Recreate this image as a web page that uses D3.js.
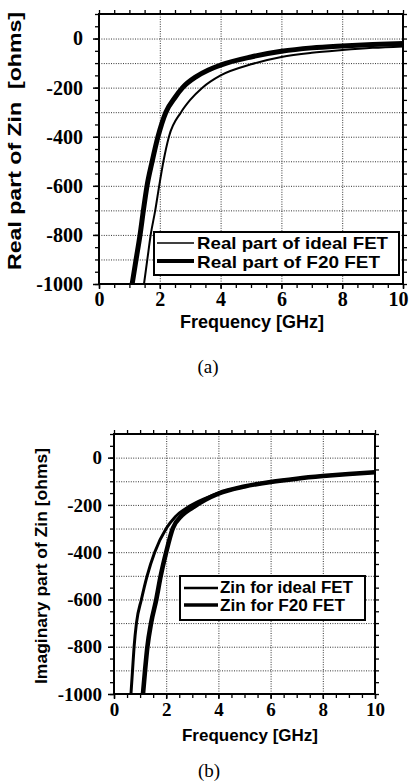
<!DOCTYPE html>
<html>
<head>
<meta charset="utf-8">
<script src="https://cdn.jsdelivr.net/npm/d3@7"></script>
<style>
body { margin: 0; background: #fff; }
svg { display: block; }
</style>
</head>
<body>
<script>
// axis ticks
var freqTicks = [0, 2, 4, 6, 8, 10];
var ohmTicks = [0, -200, -400, -600, -800, -1000];
var ohmGrid = [0, -100, -200, -300, -400, -500, -600, -700, -800, -900, -1000];

// (a) real part of Zin
var realFreqIdeal = [1.48, 1.59, 1.70, 1.85, 1.98, 2.12, 2.3, 2.7, 3.0, 3.4, 4.0, 5.0, 6.0, 7.0, 8.0, 9.0, 10.0];
var realOhmsIdeal = [-1000, -900, -800, -700, -600, -500, -400, -300, -250, -200, -150, -105, -75, -58, -47, -38, -32];
var realFreqF20 = [1.09, 1.22, 1.35, 1.46, 1.58, 1.75, 1.94, 2.2, 2.5, 2.75, 3.2, 3.6, 4.0, 5.0, 6.0, 7.0, 8.0, 9.0, 10.0];
var realOhmsF20 = [-1000, -900, -800, -700, -600, -500, -400, -300, -240, -200, -155, -128, -108, -75, -52, -38, -30, -24, -20];

// (b) imaginary part of Zin
var imagFreqIdeal = [0.65, 0.71, 0.77, 0.86, 1.05, 1.27, 1.56, 2.0, 2.35, 2.9, 3.5, 4.0, 5.0, 6.0, 7.0, 8.0, 9.0, 10.0];
var imagOhmsIdeal = [-1000, -900, -800, -700, -600, -500, -400, -300, -250, -205, -172, -150, -122, -103, -89, -78, -69, -62];
var imagFreqF20 = [1.11, 1.19, 1.28, 1.42, 1.62, 1.79, 2.0, 2.25, 2.6, 3.0, 3.5, 4.0, 5.0, 6.0, 7.0, 8.0, 9.0, 10.0];
var imagOhmsF20 = [-1000, -900, -800, -700, -600, -500, -400, -300, -245, -212, -178, -152, -122, -103, -89, -78, -69, -62];

var sans = "'Liberation Sans', Arial, Helvetica, sans-serif";
var serif = "'Liberation Serif', 'Times New Roman', serif";

var svg = d3.select("body").append("svg")
    .attr("width", 409)
    .attr("height", 783);

function zip(fs, vs) {
    return fs.map(function(f, i) { return { f: f, v: vs[i] }; });
}

function panel(c) {
    var x = d3.scaleLinear().domain([0, 10]).range([c.left, c.right]);
    var y = d3.scaleLinear().domain([-1000, 100]).range([c.bottom, c.top]);
    var g = svg.append("g");
    var h = c.bottom - c.top, w = c.right - c.left;

    // dotted grid
    g.append("g").attr("transform", "translate(0," + c.bottom + ")")
        .call(d3.axisBottom(x).tickValues(freqTicks).tickSize(-h).tickFormat(""))
        .call(function(s) { s.select(".domain").remove(); });
    g.append("g").attr("transform", "translate(" + c.left + ",0)")
        .call(d3.axisLeft(y).tickValues(ohmGrid).tickSize(-w).tickFormat(""))
        .call(function(s) { s.select(".domain").remove(); });
    g.selectAll(".tick line")
        .attr("stroke", "#333")
        .attr("stroke-width", 1)
        .attr("stroke-dasharray", "1,1.4");

    // minor ticks on all four sides
    var fMinor = d3.range(0, 10.01, 0.5), oMinor = d3.range(-1000, 100.1, 50);
    var minor = [
        [d3.axisBottom(x).tickValues(fMinor), "translate(0," + c.bottom + ")"],
        [d3.axisTop(x).tickValues(fMinor), "translate(0," + c.top + ")"],
        [d3.axisLeft(y).tickValues(oMinor), "translate(" + c.left + ",0)"],
        [d3.axisRight(y).tickValues(oMinor), "translate(" + c.right + ",0)"]
    ];
    minor.forEach(function(m) {
        g.append("g").attr("transform", m[1])
            .call(m[0].tickSize(4).tickSizeOuter(0).tickFormat(""))
            .call(function(s) { s.select(".domain").remove(); })
            .selectAll("line").attr("stroke", "#000").attr("stroke-width", 1.3);
    });

    // labelled axes
    var xa = g.append("g").attr("transform", "translate(0," + c.bottom + ")")
        .call(d3.axisBottom(x).tickValues(freqTicks).tickSize(5).tickPadding(c.xpad)
            .tickFormat(function(d) { return String(d); }));
    var ya = g.append("g").attr("transform", "translate(" + c.left + ",0)")
        .call(d3.axisLeft(y).tickValues(ohmTicks).tickSize(6).tickPadding(c.ypad)
            .tickFormat(function(d) { return String(d); }));
    [xa, ya].forEach(function(a) {
        a.attr("font-family", null).attr("font-size", null);
        a.select(".domain").remove();
        a.selectAll("line").attr("stroke", "#000").attr("stroke-width", 1.5);
        a.selectAll("text")
            .attr("fill", "#000")
            .style("font-family", serif)
            .style("font-weight", "bold")
            .style("font-size", c.tickFont + "px");
    });
    // keep the last frequency label inside the page
    xa.selectAll("text").filter(function(d) { return d === 10; })
        .attr("dx", c.lastDx);

    // frame
    g.append("rect")
        .attr("x", c.left).attr("y", c.top)
        .attr("width", w).attr("height", h)
        .attr("fill", "none").attr("stroke", "#000").attr("stroke-width", 2);

    // curves
    var clipId = "clip" + c.id;
    svg.append("clipPath").attr("id", clipId).append("rect")
        .attr("x", c.left).attr("y", c.top).attr("width", w).attr("height", h + 2);
    var line = d3.line()
        .x(function(d) { return x(d.f); })
        .y(function(d) { return y(d.v); })
        .curve(d3.curveMonotoneX);
    var series = [
        { data: zip(c.idealF, c.idealV), width: c.thin },
        { data: zip(c.f20F, c.f20V), width: c.thick }
    ];
    g.append("g").attr("clip-path", "url(#" + clipId + ")")
        .selectAll("path.curve")
        .data(series)
        .enter().append("path")
        .attr("class", "curve")
        .attr("d", function(d) { return line(d.data); })
        .attr("fill", "none")
        .attr("stroke", "#000")
        .attr("stroke-width", function(d) { return d.width; })
        .attr("stroke-linejoin", "round");

    // legend
    var L = c.legend;
    g.append("rect")
        .attr("x", L.x).attr("y", L.y).attr("width", L.w).attr("height", L.h)
        .attr("fill", "#fff").attr("stroke", "#000").attr("stroke-width", 2);
    L.labels.forEach(function(t, i) {
        g.append("line")
            .attr("x1", L.lx1).attr("x2", L.lx2)
            .attr("y1", L.ly[i]).attr("y2", L.ly[i])
            .attr("stroke", "#000")
            .attr("stroke-width", L.lw[i]);
        g.append("text")
            .attr("x", L.tx).attr("y", L.ty[i])
            .attr("textLength", L.len[i])
            .attr("lengthAdjust", "spacingAndGlyphs")
            .style("font-family", sans).style("font-weight", "bold")
            .style("font-size", L.font + "px")
            .text(t);
    });

    // axis titles
    g.append("text")
        .attr("x", c.xTitle[0]).attr("y", c.xTitle[1])
        .attr("text-anchor", "middle")
        .style("font-family", sans).style("font-weight", "bold")
        .style("font-size", c.xTitleFont + "px")
        .text("Frequency [GHz]");
    g.append("text")
        .attr("transform", "translate(" + c.yTitle[0] + "," + c.yTitle[1] + ") rotate(-90)")
        .attr("text-anchor", "middle")
        .attr("textLength", c.yTitleLen)
        .attr("lengthAdjust", "spacingAndGlyphs")
        .style("font-family", sans).style("font-weight", "bold")
        .style("font-size", c.yTitleFont + "px")
        .style("white-space", "pre")
        .text(c.yLabel);
    g.append("text")
        .attr("x", c.caption[0]).attr("y", c.caption[1])
        .attr("text-anchor", "middle")
        .style("font-family", serif)
        .style("font-size", "19px")
        .text(c.captionText);
}

panel({
    id: "a", left: 99, right: 403, top: 14, bottom: 284,
    idealF: realFreqIdeal, idealV: realOhmsIdeal,
    f20F: realFreqF20, f20V: realOhmsF20,
    thin: 2, thick: 5, tickFont: 20, ypad: 10, xpad: 3, lastDx: -5,
    legend: {
        x: 154, y: 232, w: 245, h: 43, lx1: 157, lx2: 194,
        ly: [243, 261], lw: [1.6, 3.8], tx: 197, ty: [249, 268], font: 17,
        len: [191, 183],
        labels: ["Real part of ideal FET", "Real part of F20 FET"]
    },
    xTitle: [252, 328], xTitleFont: 18,
    yTitle: [21, 141], yTitleFont: 18, yTitleLen: 258,
    yLabel: "Real part of Zin  [ohms]",
    caption: [208, 373], captionText: "(a)"
});

panel({
    id: "b", left: 114, right: 375, top: 434, bottom: 694,
    idealF: imagFreqIdeal, idealV: imagOhmsIdeal,
    f20F: imagFreqF20, f20V: imagOhmsF20,
    thin: 3, thick: 4.6, tickFont: 19, ypad: 6, xpad: 4, lastDx: 0,
    legend: {
        x: 180, y: 576, w: 185, h: 44, lx1: 184, lx2: 218,
        ly: [588, 605], lw: [2.4, 3.6], tx: 220, ty: [593, 611], font: 16,
        len: [133, 125],
        labels: ["Zin for ideal FET", "Zin for F20 FET"]
    },
    xTitle: [250, 741], xTitleFont: 17,
    yTitle: [47, 566], yTitleFont: 17, yTitleLen: 236,
    yLabel: "Imaginary part of Zin [ohms]",
    caption: [209, 777], captionText: "(b)"
});
</script>
</body>
</html>
